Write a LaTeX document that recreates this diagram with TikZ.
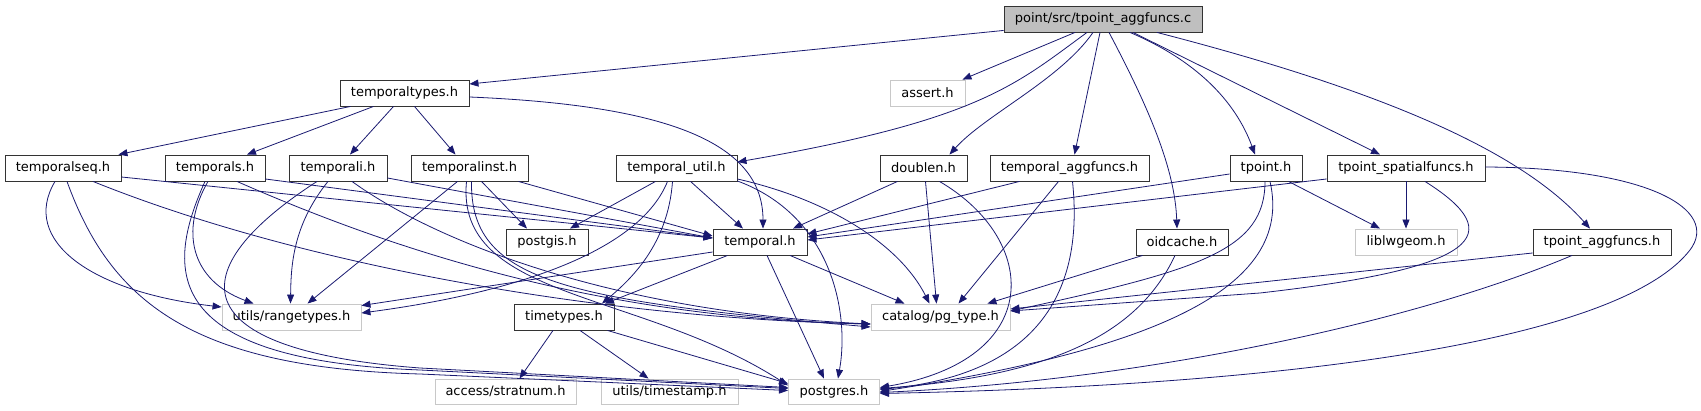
\documentclass[tikz,border=0pt]{standalone}
\usepackage{fontspec}
\setmainfont{DejaVu Sans}
\usepackage{tikz}
\usetikzlibrary{positioning,arrows.meta,calc}
\definecolor{edgeblue}{HTML}{191970}
\definecolor{rootgray}{HTML}{BFBFBF}
\definecolor{extgray}{HTML}{C8C8C8}

\begin{document}
\begin{tikzpicture}[
  x=1pt,y=-1pt,
  >={Triangle[length=9pt,width=7pt]},
  hdr/.style={draw=black!80,fill=white,line width=0.9pt,inner sep=0pt,
              minimum height=26pt},
  ext/.style={hdr,draw=extgray},
  top/.style={hdr,fill=rootgray},
  inc/.style={->,draw=edgeblue,line width=0.8pt},
  every node/.style={font=\fontsize{13pt}{15pt}\selectfont}
]
\useasboundingbox (0,0) rectangle (1701,411);
\node[top,minimum width=198pt] (root) at (1103,19) {point/src/tpoint\_aggfuncs.c};
\node[hdr,minimum width=129pt] (ttypes) at (404.5,93) {temporaltypes.h};
\node[ext,minimum width=75pt] (assert) at (927.5,93) {assert.h};
\node[hdr,minimum width=116pt] (tseq) at (63,168) {temporalseq.h};
\node[hdr,minimum width=100pt] (tsets) at (215,168) {temporals.h};
\node[hdr,minimum width=98pt] (tali) at (338,168) {temporali.h};
\node[hdr,minimum width=117pt] (tinst) at (469.5,168) {temporalinst.h};
\node[hdr,minimum width=121pt] (tutil) at (676.5,168) {temporal\_util.h};
\node[hdr,minimum width=87pt] (doublen) at (923.5,168) {doublen.h};
\node[hdr,minimum width=159pt] (taggf) at (1069.5,168) {temporal\_aggfuncs.h};
\node[hdr,minimum width=72pt] (tpoint) at (1266,168) {tpoint.h};
\node[hdr,minimum width=158pt] (tspatial) at (1406,168) {tpoint\_spatialfuncs.h};
\node[hdr,minimum width=82pt] (postgis) at (547,242) {postgis.h};
\node[hdr,minimum width=94pt] (temporal) at (760,242) {temporal.h};
\node[hdr,minimum width=92pt] (oidcache) at (1182,242) {oidcache.h};
\node[ext,minimum width=102pt] (liblwgeom) at (1406,242) {liblwgeom.h};
\node[hdr,minimum width=138pt] (tpaggf) at (1602,242) {tpoint\_aggfuncs.h};
\node[ext,minimum width=139pt] (rangetypes) at (291.5,317) {utils/rangetypes.h};
\node[hdr,minimum width=100pt] (timetypes) at (564,317) {timetypes.h};
\node[ext,minimum width=139pt] (pgtype) at (940.5,317) {catalog/pg\_type.h};
\node[ext,minimum width=141pt,minimum height=25pt] (stratnum) at (505.5,391.5) {access/stratnum.h};
\node[ext,minimum width=137pt,minimum height=25pt] (timestamp) at (669.5,391.5) {utils/timestamp.h};
\node[ext,minimum width=91pt,minimum height=25pt] (postgres) at (834,391.5) {postgres.h};

\draw[inc] ($(root.south west)+(0,-2)$) -- ($(ttypes.east)+(0,-9)$);
\draw[inc] ($(root.south)+(-28,0)$) -- ($(assert.north east)+(-3,0)$);
\draw[inc] ($(root.south)+(-16,0)$) .. controls (1015,85) and (980,120) .. ($(tutil.east)+(0,-6)$);
\draw[inc] ($(root.south)+(-10,0)$) .. controls (1060,80) and (985,115) .. ($(doublen.north)+(26,0)$);
\draw[inc] ($(root.south)+(-3,0)$) -- ($(taggf.north)+(5,0)$);
\draw[inc] ($(root.south)+(6,0)$) .. controls (1150,110) and (1175,170) .. ($(oidcache.north)+(-5,0)$);
\draw[inc] ($(root.south)+(27,0)$) .. controls (1195,60) and (1235,100) .. ($(tpoint.north)+(-11,0)$);
\draw[inc] ($(root.south)+(30,0)$) -- ($(tspatial.north)+(-26,0)$);
\draw[inc] ($(root.south)+(54,0)$) .. controls (1380,90) and (1520,150) .. ($(tpaggf.north)+(-12,0)$);

\draw[inc] ($(ttypes.south)+(-54,0)$) -- ($(tseq.north east)+(-3,0)$);
\draw[inc] ($(ttypes.south)+(-31,0)$) -- ($(tsets.north)+(32,0)$);
\draw[inc] ($(ttypes.south)+(-11,0)$) -- ($(tali.north)+(12,0)$);
\draw[inc] ($(ttypes.south)+(10,0)$) -- ($(tinst.north)+(-14,0)$);
\draw[inc] ($(ttypes.east)+(0,4)$) .. controls (660,105) and (763,140) .. ($(temporal.north)+(3,0)$);

\draw[inc] ($(tseq.south)+(-8,0)$) .. controls (20,240) and (90,292) .. ($(rangetypes.west)+(0,-10)$);
\draw[inc] ($(tseq.south)+(4,0)$) .. controls (110,300) and (190,368) .. (420,374) -- ($(postgres.west)+(0,-1)$);
\draw[inc] ($(tseq.south)+(30,0)$) .. controls (300,265) and (600,318) .. ($(pgtype.west)+(0,7)$);
\draw[inc] ($(tseq.east)+(0,9)$) -- ($(temporal.west)+(0,-4)$);

\draw[inc] ($(tsets.south)+(-7,0)$) .. controls (180,230) and (190,280) .. ($(rangetypes.north)+(-38,0)$);
\draw[inc] ($(tsets.south)+(-10,0)$) .. controls (165,270) and (160,360) .. (420,370) -- ($(postgres.west)+(0,-3)$);
\draw[inc] ($(tsets.south)+(22,0)$) .. controls (420,262) and (620,318) .. ($(pgtype.west)+(0,7)$);
\draw[inc] ($(tsets.east)+(0,11)$) -- ($(temporal.west)+(0,-4)$);

\draw[inc] ($(tali.south)+(-21,0)$) .. controls (180,270) and (180,350) .. (420,368) -- ($(postgres.west)+(0,-4)$);
\draw[inc] ($(tali.south)+(-10,0)$) .. controls (293,225) and (291,265) .. ($(rangetypes.north)+(-1,0)$);
\draw[inc] ($(tali.south)+(14,0)$) .. controls (440,245) and (620,312) .. ($(pgtype.west)+(0,7)$);
\draw[inc] ($(tali.east)+(0,10)$) -- ($(temporal.west)+(0,-4)$);

\draw[inc] ($(tinst.south)+(-12,0)$) -- ($(rangetypes.north)+(16,0)$);
\draw[inc] ($(tinst.south)+(-3,0)$) .. controls (455,300) and (640,290) .. ($(postgres.west)+(0,-6)$);
\draw[inc] ($(tinst.south)+(2,0)$) .. controls (470,280) and (560,300) .. ($(pgtype.west)+(0,10)$);
\draw[inc] ($(tinst.south)+(12,0)$) -- ($(postgis.north)+(-20,0)$);
\draw[inc] ($(tinst.south east)+(-10,0)$) -- ($(temporal.west)+(0,-6)$);

\draw[inc] ($(tutil.south)+(-21,0)$) -- ($(postgis.north)+(23,0)$);
\draw[inc] ($(tutil.south)+(-9,0)$) .. controls (640,250) and (520,292) .. ($(rangetypes.east)+(0,-4)$);
\draw[inc] ($(tutil.south)+(-4,0)$) .. controls (668,245) and (630,280) .. ($(timetypes.north)+(38,0)$);
\draw[inc] ($(tutil.south)+(14,0)$) -- ($(temporal.north)+(-17,0)$);
\draw[inc] ($(tutil.east)+(0,11)$) .. controls (830,200) and (900,245) .. ($(pgtype.north)+(-11,0)$);
\draw[inc] ($(tutil.east)+(0,13)$) .. controls (830,215) and (850,310) .. ($(postgres.north)+(4,0)$);

\draw[inc] ($(doublen.south)+(-26,0)$) -- ($(temporal.north)+(33,0)$);
\draw[inc] ($(doublen.south)+(2,0)$) -- ($(pgtype.north)+(-4,0)$);
\draw[inc] ($(doublen.south)+(16,0)$) .. controls (1040,240) and (1045,360) .. ($(postgres.east)+(0,-4)$);

\draw[inc] ($(taggf.south west)+(30,0)$) -- ($(temporal.east)+(0,-8)$);
\draw[inc] ($(taggf.south)+(-11,0)$) -- ($(pgtype.north)+(18,0)$);
\draw[inc] ($(taggf.south)+(3,0)$) .. controls (1085,300) and (1030,375) .. ($(postgres.east)+(0,-2)$);

\draw[inc] ($(tpoint.west)+(0,6)$) -- ($(temporal.east)+(0,-5)$);
\draw[inc] ($(tpoint.south)+(-1,0)$) .. controls (1265,250) and (1200,270) .. ($(pgtype.east)+(0,-6)$);
\draw[inc] ($(tpoint.south)+(4,0)$) .. controls (1295,290) and (1150,350) .. (postgres.east);
\draw[inc] ($(tpoint.south east)+(-14,0)$) -- ($(liblwgeom.north)+(-26,0)$);

\draw[inc] ($(tspatial.west)+(0,11)$) -- ($(temporal.east)+(0,-2)$);
\draw[inc] (tspatial.south) -- (liblwgeom.north);
\draw[inc] ($(tspatial.south)+(19,0)$) .. controls (1510,235) and (1480,268) .. (1260,293) -- ($(pgtype.east)+(0,-6)$);
\draw[inc] ($(tspatial.east)+(0,-1)$) .. controls (1650,168) and (1720,210) .. (1690,250)
  .. controls (1620,340) and (1300,385) .. ($(postgres.east)+(0,2)$);

\draw[inc] ($(oidcache.south west)+(7,0)$) -- ($(pgtype.north east)+(-23,0)$);
\draw[inc] ($(oidcache.south)+(-7,0)$) .. controls (1140,330) and (1060,375) .. ($(postgres.east)+(0,-3)$);

\draw[inc] ($(tpaggf.west)+(0,11)$) -- ($(pgtype.east)+(0,-8)$);
\draw[inc] ($(tpaggf.south)+(-30,0)$) .. controls (1420,320) and (1150,380) .. ($(postgres.east)+(0,1)$);

\draw[inc] ($(temporal.west)+(0,10)$) -- ($(rangetypes.north east)+(0,2)$);
\draw[inc] ($(temporal.south west)+(15,0)$) -- ($(timetypes.north)+(41,0)$);
\draw[inc] ($(temporal.south)+(30,0)$) -- ($(pgtype.north)+(-36,0)$);
\draw[inc] ($(temporal.south)+(7,0)$) -- ($(postgres.north)+(-10,0)$);

\draw[inc] ($(timetypes.south)+(-11,0)$) -- ($(stratnum.north)+(14,0)$);
\draw[inc] ($(timetypes.south)+(16,0)$) -- ($(timestamp.north)+(-21,0)$);
\draw[inc] ($(timetypes.south east)+(-7,0)$) -- ($(postgres.west)+(0,-8)$);
\end{tikzpicture}
\end{document}
